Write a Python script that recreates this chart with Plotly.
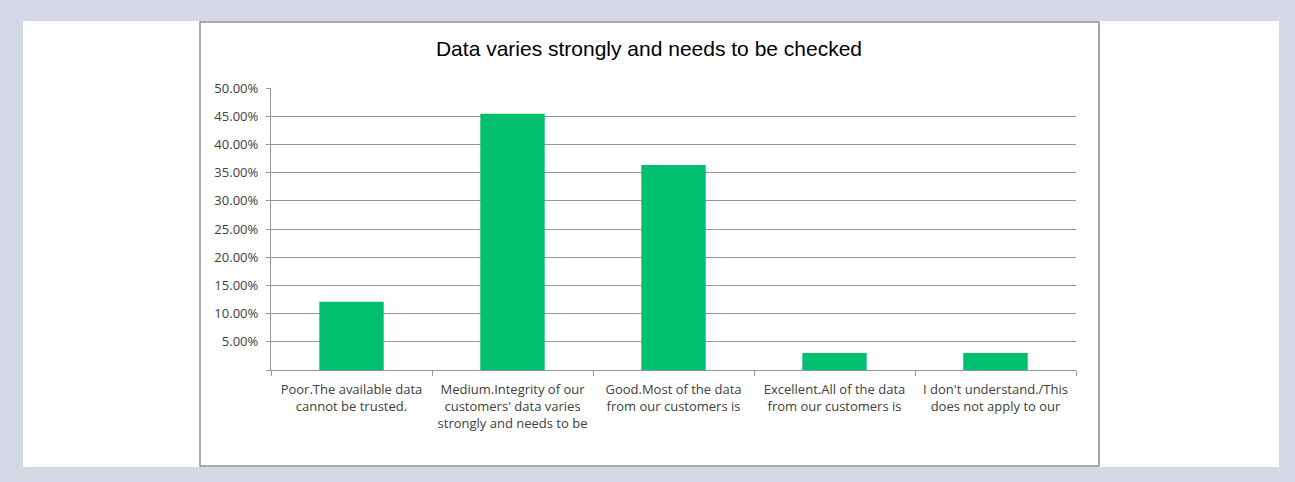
import plotly.graph_objects as go

# survey answers (labels are cut off the same way as in the source chart)
categories = [
    "Poor.The available data<br>cannot be trusted.",
    "Medium.Integrity of our<br>customers' data varies<br>strongly and needs to be",
    "Good.Most of the data<br>from our customers is",
    "Excellent.All of the data<br>from our customers is",
    "I don't understand./This<br>does not apply to our",
]
shares = [0.1212, 0.4545, 0.3636, 0.0303, 0.0303]

y_ticks = [0, 0.05, 0.10, 0.15, 0.20, 0.25, 0.30, 0.35, 0.40, 0.45, 0.50]
y_ticktext = [""] + ["%.2f%%" % (v * 100) for v in y_ticks[1:]]

W, H = 1295, 482
L, R, T, B = 271, 1076, 88, 370  # plot area in pixels


def px(x):
    return (x - L) / (R - L)


def py(y):
    return (B - y) / (B - T)


fig = go.Figure()
fig.add_trace(go.Bar(x=categories, y=shares, marker=dict(color="#00bf6f", line=dict(width=0))))

grid = "#969696"
fig.update_layout(
    width=W, height=H,
    margin=dict(l=L, r=W - R, t=T, b=H - B, pad=0),
    paper_bgcolor="#d5d8e5",
    plot_bgcolor="white",
    bargap=0.6,
    showlegend=False,
    font=dict(family="Open Sans", size=13, color="#404040"),
    title=dict(text="Data varies strongly and needs to be checked",
               x=px(649), xref="paper", xanchor="center",
               y=1 - 49 / H, yanchor="middle",
               font=dict(family="Liberation Sans, Arial", size=21, color="black")),
    xaxis=dict(showline=True, linecolor=grid, linewidth=1.3, ticks="outside",
               ticklen=5, tickcolor=grid, tickwidth=1.3, tickson="boundaries",
               showgrid=False, ticklabelstandoff=7),
    yaxis=dict(range=[0, 0.5], tickvals=y_ticks, ticktext=y_ticktext,
               showline=True, linecolor=grid, linewidth=1.3, ticks="outside",
               ticklen=4, tickcolor=grid, tickwidth=1.3, showgrid=True,
               gridcolor=grid, gridwidth=1.3, zeroline=False,
               ticklabelstandoff=5),
    shapes=[
        # white panel
        dict(type="rect", xref="paper", yref="paper", layer="below",
             x0=px(23), x1=px(1279), y0=py(467), y1=py(21),
             fillcolor="white", line=dict(width=0)),
        # chart frame
        dict(type="rect", xref="paper", yref="paper", layer="below",
             x0=px(200), x1=px(1099), y0=py(466), y1=py(22),
             fillcolor="white", line=dict(color="#8c8c8c", width=1.5)),
    ],
)

# the page body has an 8px default margin; drop it so the figure fills the window
fig.write_html("out.html", config={"displayModeBar": False},
               post_script="document.body.style.margin='0';")
